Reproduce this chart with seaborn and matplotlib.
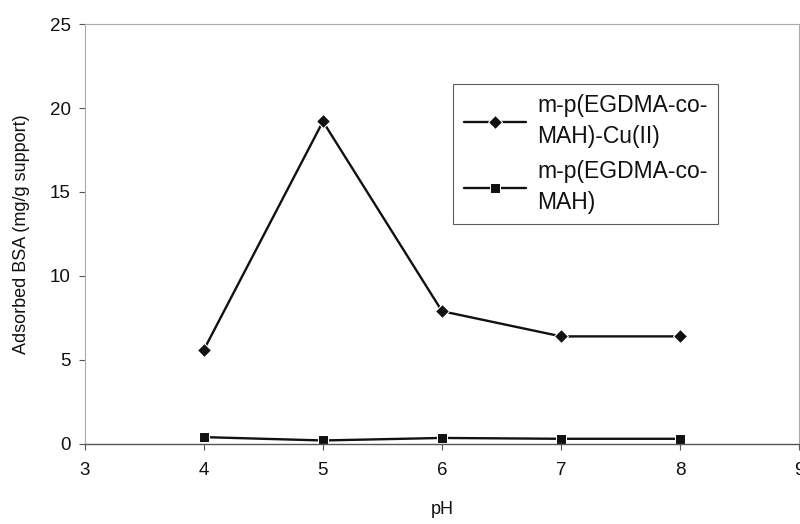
import pandas as pd
import matplotlib.pyplot as plt
import seaborn as sns

# Dati
ph = [4, 5, 6, 7, 8]
bsa_cu = [5.6, 19.2, 7.9, 6.4, 6.4]
bsa_plain = [0.4, 0.2, 0.35, 0.3, 0.3]
series_names = ["m-p(EGDMA-co-\nMAH)-Cu(II)", "m-p(EGDMA-co-\nMAH)"]
x_ticks = [3, 4, 5, 6, 7, 8, 9]
y_ticks = [0, 5, 10, 15, 20, 25]

df = pd.DataFrame({
    "pH": ph + ph,
    "BSA": bsa_cu + bsa_plain,
    "Serie": [series_names[0]] * len(ph) + [series_names[1]] * len(ph),
})

sns.set_theme(style="white")
plt.rcParams['font.family'] = ['Liberation Sans', 'DejaVu Sans']

fig = plt.figure(figsize=(8, 5.24), dpi=100)
ax = fig.add_axes([0.106, 0.153, 0.893, 0.801])

sns.lineplot(
    data=df,
    x="pH",
    y="BSA",
    hue="Serie",
    style="Serie",
    markers={series_names[0]: "D", series_names[1]: "s"},
    dashes=False,
    palette={series_names[0]: "#111111", series_names[1]: "#111111"},
    linewidth=1.7,
    markersize=7.5,
    ax=ax,
)

ax.set_xlim(3, 9)
ax.set_ylim(0, 25)
ax.set_xticks(x_ticks)
ax.set_yticks(y_ticks)
ax.tick_params(axis="both", labelsize=13.5, labelcolor="#111111", length=4, width=0.8,
               color="#555555", direction="out", bottom=True, left=True)
ax.tick_params(axis="x", pad=9)
ax.tick_params(axis="y", pad=6)
ax.set_xlabel("pH", fontsize=13, color="#111111", labelpad=16)
ax.set_ylabel("Adsorbed BSA (mg/g support)", fontsize=13, color="#111111", labelpad=14)

for side in ["top", "right", "left"]:
    ax.spines[side].set_color("#aaaaaa")
    ax.spines[side].set_linewidth(0.8)
ax.spines["bottom"].set_color("#555555")
ax.spines["bottom"].set_linewidth(1.0)

leg = ax.legend(
    loc="upper left",
    bbox_to_anchor=(0.5, 0.885),
    fontsize=16.5,
    frameon=True,
    fancybox=False,
    edgecolor="#333333",
    handlelength=2.7,
    handletextpad=0.5,
    labelspacing=0.5,
    borderpad=0.45,
)
leg.get_frame().set_linewidth(0.8)
for t in leg.get_texts():
    t.set_linespacing(1.45)
    t.set_color("#111111")

plt.savefig("out.png", dpi=100)
plt.close()
